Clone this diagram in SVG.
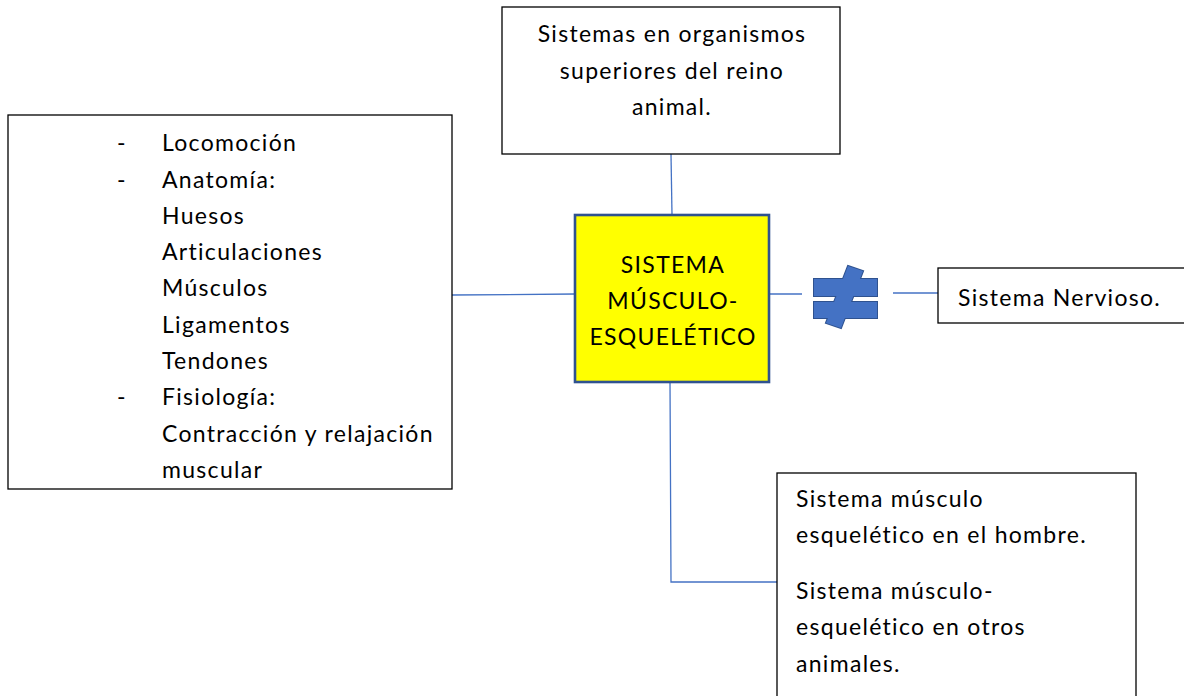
<svg xmlns="http://www.w3.org/2000/svg" width="1184" height="696" viewBox="0 0 1184 696">
<style>
.box{fill:#fff;stroke:#000;stroke-width:1.3}
.t{font-family:Lato,"Carlito","Liberation Sans",sans-serif;font-size:23px;letter-spacing:1.3px;fill:#000}
.c{text-anchor:middle}
.ln{stroke:#4472C4;stroke-width:1.3;fill:none}
</style>
<rect width="1184" height="696" fill="#fff"/>
<g id="connectors">
<line class="ln" x1="671" y1="154" x2="672" y2="215"/>
<line class="ln" x1="452" y1="295" x2="575" y2="294"/>
<line class="ln" x1="769" y1="294" x2="802" y2="294"/>
<line class="ln" x1="893" y1="293" x2="938" y2="293"/>
<polyline class="ln" points="670,382 671,582 777,582"/>
</g>
<g id="top">
<rect class="box" x="502" y="7" width="338" height="147"/>
<text class="t c" x="672" y="42">Sistemas en organismos</text>
<text class="t c" x="672" y="79">superiores del reino</text>
<text class="t c" x="672" y="115">animal.</text>
</g>
<g id="left">
<rect class="box" x="8" y="115" width="444" height="374"/>
<text class="t" x="117" y="151">-</text>
<text class="t" x="162" y="151">Locomoción</text>
<text class="t" x="117" y="188">-</text>
<text class="t" x="162" y="188">Anatomía:</text>
<text class="t" x="162" y="224">Huesos</text>
<text class="t" x="162" y="260">Articulaciones</text>
<text class="t" x="162" y="296">Músculos</text>
<text class="t" x="162" y="333">Ligamentos</text>
<text class="t" x="162" y="369">Tendones</text>
<text class="t" x="117" y="405">-</text>
<text class="t" x="162" y="405">Fisiología:</text>
<text class="t" x="162" y="442">Contracción y relajación</text>
<text class="t" x="162" y="478">muscular</text>
</g>
<g id="center">
<rect x="575" y="215" width="194" height="167" fill="#FFFF00" stroke="#2F528F" stroke-width="2.6"/>
<text class="t c" x="673" y="273">SISTEMA</text>
<text class="t c" x="673" y="309">MÚSCULO-</text>
<text class="t c" x="673" y="345">ESQUELÉTICO</text>
</g>
<g id="noteq">
<g fill="#4472C4" stroke="#2F528F" stroke-width="2">
<polygon points="848,266 863,271 841,328 826,323"/>
<rect x="814" y="279" width="63" height="17"/>
<rect x="814" y="302" width="63" height="16"/>
</g>
<g fill="#4472C4">
<polygon points="848,266 863,271 841,328 826,323"/>
<rect x="814" y="279" width="63" height="17"/>
<rect x="814" y="302" width="63" height="16"/>
</g>
</g>
<g id="nervioso">
<rect class="box" x="938" y="268" width="250" height="55"/>
<text class="t" x="958" y="306">Sistema Nervioso.</text>
</g>
<g id="bottom">
<rect class="box" x="777" y="473" width="359" height="230"/>
<text class="t" x="796" y="507">Sistema músculo</text>
<text class="t" x="796" y="543">esquelético en el hombre.</text>
<text class="t" x="796" y="599">Sistema músculo-</text>
<text class="t" x="796" y="635">esquelético en otros</text>
<text class="t" x="796" y="672">animales.</text>
</g>
</svg>
